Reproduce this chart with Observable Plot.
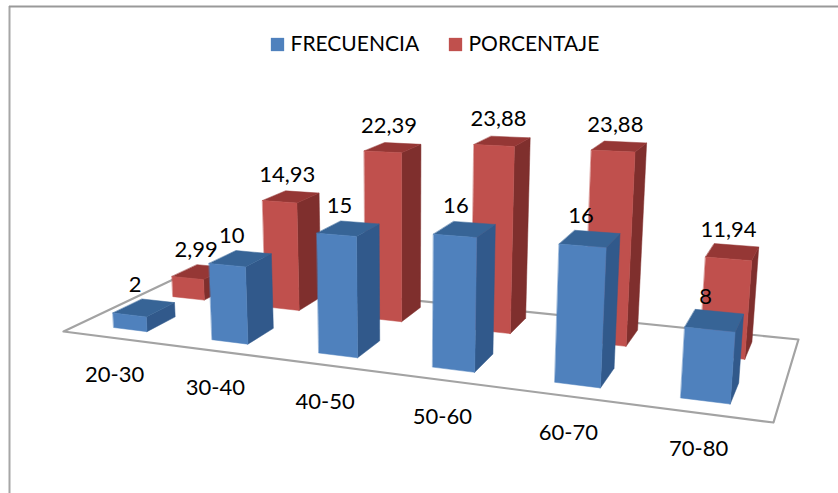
<!DOCTYPE html>
<html>
<head>
<meta charset="utf-8">
<style>
  html, body { margin: 0; padding: 0; background: #fff; }
  svg { display: block; }
</style>
<script src="https://cdn.jsdelivr.net/npm/d3@7"></script>
<script src="https://cdn.jsdelivr.net/npm/@observablehq/plot@0.6"></script>
</head>
<body>
<div id="chart"></div>
<script>
const groups = ["20-30", "30-40", "40-50", "50-60", "60-70", "70-80"];
const frecuencia = [2, 10, 15, 16, 16, 8];
const porcentaje = [2.99, 14.93, 22.39, 23.88, 23.88, 11.94];
const seriesNames = ["FRECUENCIA", "PORCENTAJE"];

const WIDTH = 838, HEIGHT = 493;

// Perspective camera: floor coordinates (u across, v into the depth) and value
// height map to the page through one homogeneous matrix.
const cam = {a: 540.7, b: 143.9, c: 63, d: -1.4, e: -12, f: 331, g: -0.219, h: 0.1559,
             vx: 402, vy: 5200, k: -0.0015};
function project(u, v, value = 0) {
  const t = cam.k * value;
  const w = cam.g * u + cam.h * v + 1 + t;
  return [
    (cam.a * u + cam.b * v + cam.c + cam.vx * t) / w,
    (cam.d * u + cam.e * v + cam.f + cam.vy * t) / w
  ];
}

// Category slots along the floor, with the small spacing corrections of this layout.
const slotShift = [0, 0.012, 0.03, 0.033, 0.025, -0.033];
const slotU = (i, offset) => (i + slotShift[i] + offset) / groups.length;

const barSpan = 0.35;          // share of a category slot
const rows = [
  {values: porcentaje, start: 0.335, v0: 0.66, v1: 0.90, front: "#c0504d", side: "#7f2f2d", top: "#953735"},
  {values: frecuencia, start: 0.36, v0: 0.13, v1: 0.37, front: "#4f81bd", side: "#31598b", top: "#376496"}
];

function face(id, shade, corners) {
  return corners.map(([u, v, z]) => {
    const [px, py] = project(u, v, z);
    return {id, shade, px, py};
  });
}

// Faces in painter's order: back row first, then the front row, left to right.
const faces = [];
rows.forEach((row, r) => {
  row.values.forEach((value, i) => {
    const u0 = slotU(i, row.start);
    const u1 = slotU(i, row.start + barSpan);
    const {v0, v1} = row;
    faces.push(...face(`${r}-${i}-side`, row.side, [[u1, v0, 0], [u1, v1, 0], [u1, v1, value], [u1, v0, value]]));
    faces.push(...face(`${r}-${i}-top`, row.top, [[u0, v0, value], [u1, v0, value], [u1, v1, value], [u0, v1, value]]));
    faces.push(...face(`${r}-${i}-front`, row.front, [[u0, v0, 0], [u1, v0, 0], [u1, v0, value], [u0, v0, value]]));
  });
});

const floor = [[0, 0], [1, 0], [1, 1], [0, 1]].map(([u, v]) => {
  const [px, py] = project(u, v);
  return {px, py};
});

const valueLabels = rows.flatMap((row, r) => row.values.map((value, i) => {
  const [px, py] = project(slotU(i, row.start + barSpan / 2), (row.v0 + row.v1) / 2, value);
  return {px, py, r, text: String(value).replace(".", ",")};
}));

const groupLabels = groups.map((text, i) => {
  const [px, py] = project(slotU(i, 0.5), 0);
  return {px, py, text};
});

const font = "Lato, 'Open Sans', sans-serif";
const textSize = 22;

const legendKeys = [
  {x: 270, name: seriesNames[0], fill: "#4f81bd"},
  {x: 448, name: seriesNames[1], fill: "#c0504d"}
];

const chart = Plot.plot({
  width: WIDTH,
  height: HEIGHT,
  margin: 0,
  x: {type: "linear", domain: [0, WIDTH], range: [0, WIDTH], axis: null},
  y: {type: "linear", domain: [0, HEIGHT], range: [0, HEIGHT], axis: null},
  color: {type: "identity"},
  style: {background: "#fff", fontFamily: font},
  marks: [
    Plot.ruleX([9], {y1: 6, y2: HEIGHT, stroke: "#a6a6a6", strokeWidth: 2}),
    Plot.ruleY([6], {x1: 9, x2: WIDTH, stroke: "#999", strokeWidth: 2}),
    Plot.line(floor, {x: "px", y: "py", fill: "#fff", stroke: "#a3a3a3", strokeWidth: 2.2, curve: "linear-closed"}),
    Plot.line(faces, {x: "px", y: "py", z: "id", fill: "shade", stroke: "shade", strokeWidth: 0.5, curve: "linear-closed"}),
    Plot.text(valueLabels.filter(d => d.r === 0), {x: "px", y: "py", text: "text", dx: -4, dy: -22, fontSize: textSize, fill: "#000"}),
    Plot.text(valueLabels.filter(d => d.r === 1), {x: "px", y: "py", text: "text", dx: -9, dy: -23, fontSize: textSize, fill: "#000"}),
    Plot.text(groupLabels, {x: "px", y: "py", text: "text", dx: 4, dy: 37, fontSize: textSize, fill: "#000"}),
    Plot.dot(legendKeys, {x: d => d.x + 7, y: 44, symbol: "square", r: 7.5, fill: "fill"}),
    Plot.text(legendKeys, {x: d => d.x + 20, y: 44, text: "name", textAnchor: "start", fontSize: 21, fill: "#000"})
  ]
});
document.getElementById("chart").append(chart);
</script>
</body>
</html>
